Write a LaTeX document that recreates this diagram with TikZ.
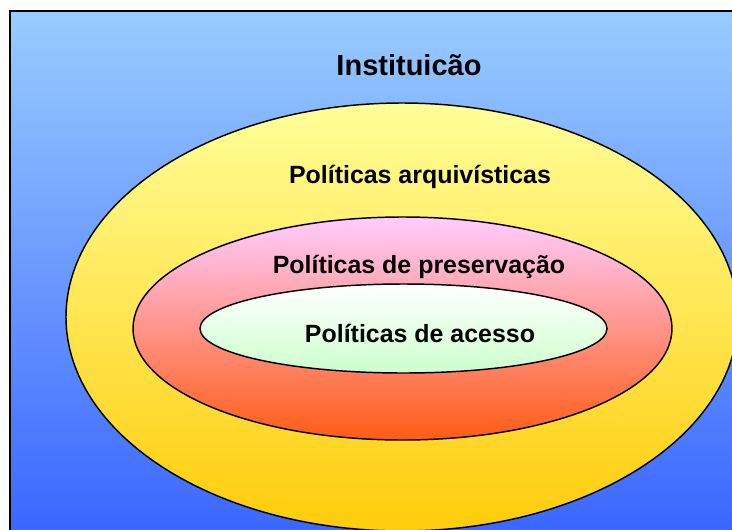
\documentclass[tikz,border=0pt]{standalone}
\usepackage{fontspec}
\setmainfont{Liberation Sans}
\usetikzlibrary{shapes.geometric}
\definecolor{sky_top}{RGB}{153, 204, 255}
\definecolor{sky_bottom}{RGB}{56, 100, 255}
\definecolor{arq_top}{RGB}{255, 255, 153}
\definecolor{arq_bottom}{RGB}{255, 204, 10}
\definecolor{pres_top}{RGB}{255, 204, 255}
\definecolor{pres_bottom}{RGB}{255, 92, 20}
\definecolor{acc_top}{RGB}{255, 255, 255}
\definecolor{acc_bottom}{RGB}{204, 255, 204}
\tikzset{
  layer/.style={ellipse, draw=black, line width=1.1pt, inner sep=0pt},
  label_text/.style={anchor=base, font=\fontsize{18.7}{22}\selectfont\bfseries}
}

\begin{document}
\begin{tikzpicture}[x=0.75pt, y=-0.75pt]
\useasboundingbox (0,0) rectangle (732,529);
\draw[line width=1.5pt, top color=sky_top, bottom color=sky_bottom] (10,11) rectangle (745,545);

\node[layer, minimum width=504pt, minimum height=321pt, top color=arq_top, bottom color=arq_bottom] (arquivo) at (402,317) {};
\node[layer, minimum width=404.25pt, minimum height=167.25pt, top color=pres_top, bottom color=pres_bottom] (preserv) at (402.5,328.5) {};
\node[layer, minimum width=305.25pt, minimum height=66.75pt, top color=acc_top, bottom color=acc_bottom] (acesso) at (403.5,328.5) {};

\node[anchor=base, font=\fontsize{21.75}{26}\selectfont\bfseries] (inst_lbl) at (409,75) {Instituicão};
\node[label_text] (arq_lbl) at (420,183) {Políticas arquivísticas};
\node[label_text] (pres_lbl) at (419,273) {Políticas de preservação};
\node[label_text] (acc_lbl) at (420,342) {Políticas de acesso};

\end{tikzpicture}
\end{document}
